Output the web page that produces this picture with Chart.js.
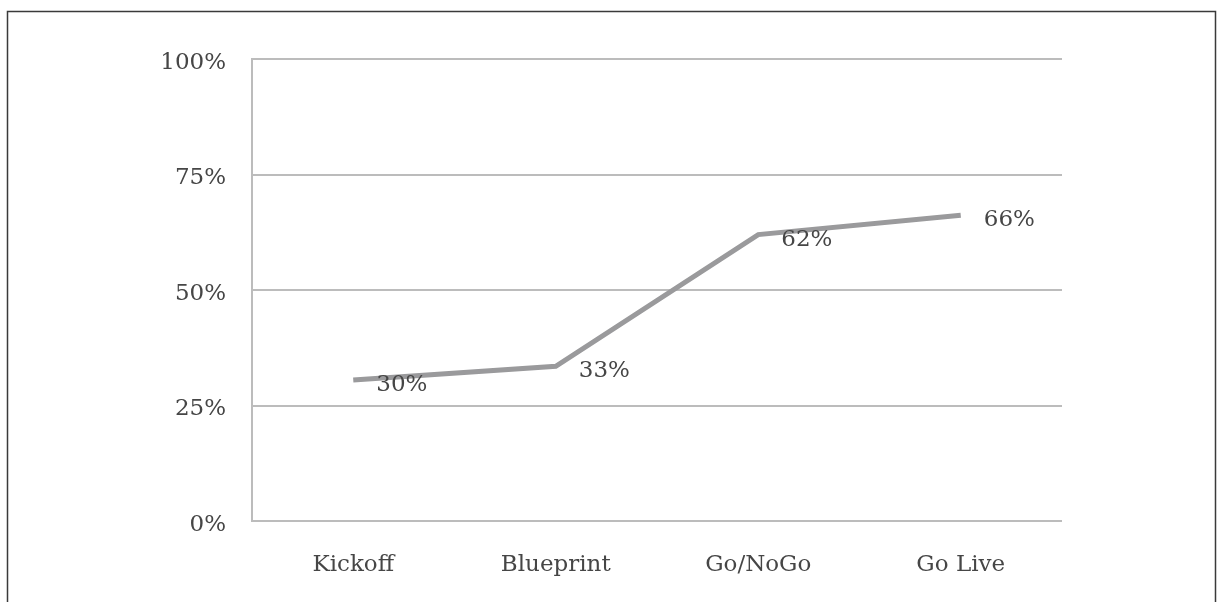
<!DOCTYPE html>
<html><head><meta charset="utf-8">
<script src="https://cdn.jsdelivr.net/npm/chart.js@4"></script>
<style>html,body{margin:0;padding:0;background:#fff}#wrap{width:1224px;height:602px;position:relative}</style>
</head><body><div id="wrap"><canvas id="c" width="1224" height="602"></canvas></div>
<script>
const categories = ['Kickoff', 'Blueprint', 'Go/NoGo', 'Go Live'];
const values = [30.5, 33.5, 62, 66.2];
const valueLabels = ['30%', '33%', '62%', '66%'];
const yTicks = [0, 25, 50, 75, 100];

const FONT = 'DejaVu Serif';
const TXT = '#464646';

const frame = {
  id: 'frame',
  beforeDraw(chart) {
    const c = chart.ctx;
    c.save();
    c.fillStyle = '#fff';
    c.fillRect(0, 0, chart.width, chart.height);
    c.strokeStyle = '#3a3a3a';
    c.lineWidth = 1.5;
    c.beginPath();
    c.moveTo(7.5, 602);
    c.lineTo(7.5, 11.5);
    c.lineTo(1215.5, 11.5);
    c.lineTo(1215.5, 602);
    c.stroke();
    c.restore();
  }
};
const dataLabels = {
  id: 'dataLabels',
  afterDatasetsDraw(chart) {
    const c = chart.ctx;
    const meta = chart.getDatasetMeta(0);
    c.save();
    c.font = '23px "' + FONT + '"';
    c.fillStyle = TXT;
    c.textAlign = 'left';
    c.textBaseline = 'middle';
    meta.data.forEach((pt, i) => {
      c.fillText(valueLabels[i], pt.x + 23, pt.y + 5);
    });
    c.restore();
  }
};

new Chart(document.getElementById('c'), {
  type: 'line',
  data: {
    labels: categories,
    datasets: [{
      data: values,
      borderColor: '#9a9a9c',
      borderWidth: 5,
      pointRadius: 0,
      tension: 0,
      fill: false
    }]
  },
  options: {
    responsive: false,
    animation: false,
    layout: { padding: { left: 0, right: 162, top: 59, bottom: 0 } },
    plugins: { legend: { display: false }, tooltip: { enabled: false } },
    scales: {
      x: {
        offset: true,
        grid: { display: false, drawTicks: false },
        border: { display: false },
        ticks: { color: TXT, font: { family: FONT, size: 23 }, padding: 30 },
        afterFit(s) { s.height = 81; }
      },
      y: {
        min: 0, max: 100,
        afterBuildTicks(s) { s.ticks = yTicks.map(v => ({ value: v })); },
        grid: { color: '#bcbcbc', lineWidth: 2, drawTicks: false },
        border: { display: true, color: '#bcbcbc', width: 2 },
        ticks: { color: TXT, font: { family: FONT, size: 23 }, padding: 26, labelOffset: 4, callback: v => v + '%' },
        afterFit(s) { s.width = 252; }
      }
    }
  },
  plugins: [frame, dataLabels]
});
</script></body></html>
